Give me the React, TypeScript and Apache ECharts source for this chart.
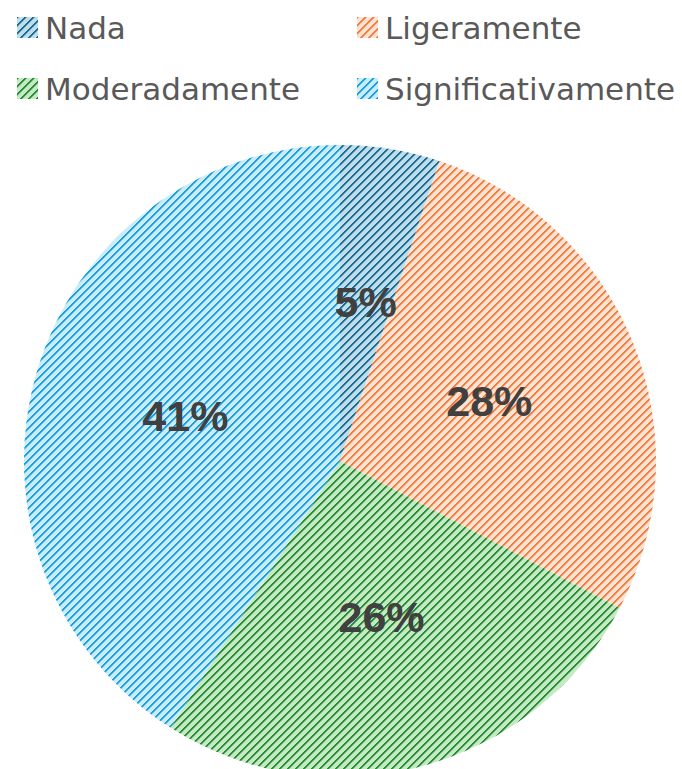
import React, { useEffect, useRef } from 'react';
import * as echarts from 'echarts';

const categories = ['Nada', 'Ligeramente', 'Moderadamente', 'Significativamente'];
const values = [5.1, 27.6, 26.3, 41.0];
const stripeColors = ['#1d6b8f', '#f07b3c', '#2b8a36', '#1a9fdc'];
const fillColors = ['#bfdeed', '#fde2d2', '#c4eac4', '#c9ecfa'];
const legendCol1 = ['Nada', 'Moderadamente'];
const legendCol2 = ['Ligeramente', 'Significativamente'];

function makePattern(bg: string, fg: string) {
  const c = document.createElement('canvas');
  c.width = 8;
  c.height = 8;
  const ctx = c.getContext('2d')!;
  ctx.fillStyle = bg;
  ctx.fillRect(0, 0, 8, 8);
  for (let x = 0; x < 8; x++) {
    const y = 7 - x;
    ctx.globalAlpha = 1;
    ctx.fillStyle = fg;
    ctx.fillRect(x, y, 1, 1);
    ctx.fillRect((x + 1) % 8, y, 1, 1);
    ctx.globalAlpha = 0.45;
    ctx.fillRect((x + 2) % 8, y, 1, 1);
  }
  ctx.globalAlpha = 1;
  return { image: c, repeat: 'repeat', imageWidth: 8, imageHeight: 8 } as any;
}

export default function App() {
  const ref = useRef<HTMLDivElement>(null);
  useEffect(() => {
    document.body.style.margin = '0';
    const chart = echarts.init(ref.current!, undefined, { renderer: 'svg' });
    const legendBase = {
      orient: 'vertical',
      top: 7,
      itemWidth: 21,
      itemHeight: 21,
      itemGap: 30,
      icon: 'rect',
      selectedMode: false,
      textStyle: {
        fontSize: 31,
        lineHeight: 31,
        color: '#595959',
        fontFamily: 'DejaVu Sans',
        padding: [0, 0, 0, 2],
      },
    };
    chart.setOption({
      animation: false,
      legend: [
        { ...legendBase, left: 12, data: legendCol1 },
        { ...legendBase, left: 352, data: legendCol2 },
      ],
      series: [
        {
          type: 'pie',
          center: [340, 461],
          radius: 316,
          startAngle: 90,
          clockwise: true,
          silent: true,
          data: categories.map((n, i) => ({
            name: n,
            value: values[i],
            itemStyle: { color: makePattern(fillColors[i], stripeColors[i]) },
          })),
          label: {
            show: true,
            position: 'inside',
            formatter: (p: any) => Math.round(p.value) + '%',
            fontSize: 43,
            fontWeight: 'bold',
            color: '#404040',
            fontFamily: 'Liberation Sans',
          },
          labelLine: { show: false },
          itemStyle: { borderWidth: 0 },
          emphasis: { disabled: true },
        },
      ],
    });
    return () => chart.dispose();
  }, []);
  return <div ref={ref} style={{ width: 682, height: 769 }} />;
}
